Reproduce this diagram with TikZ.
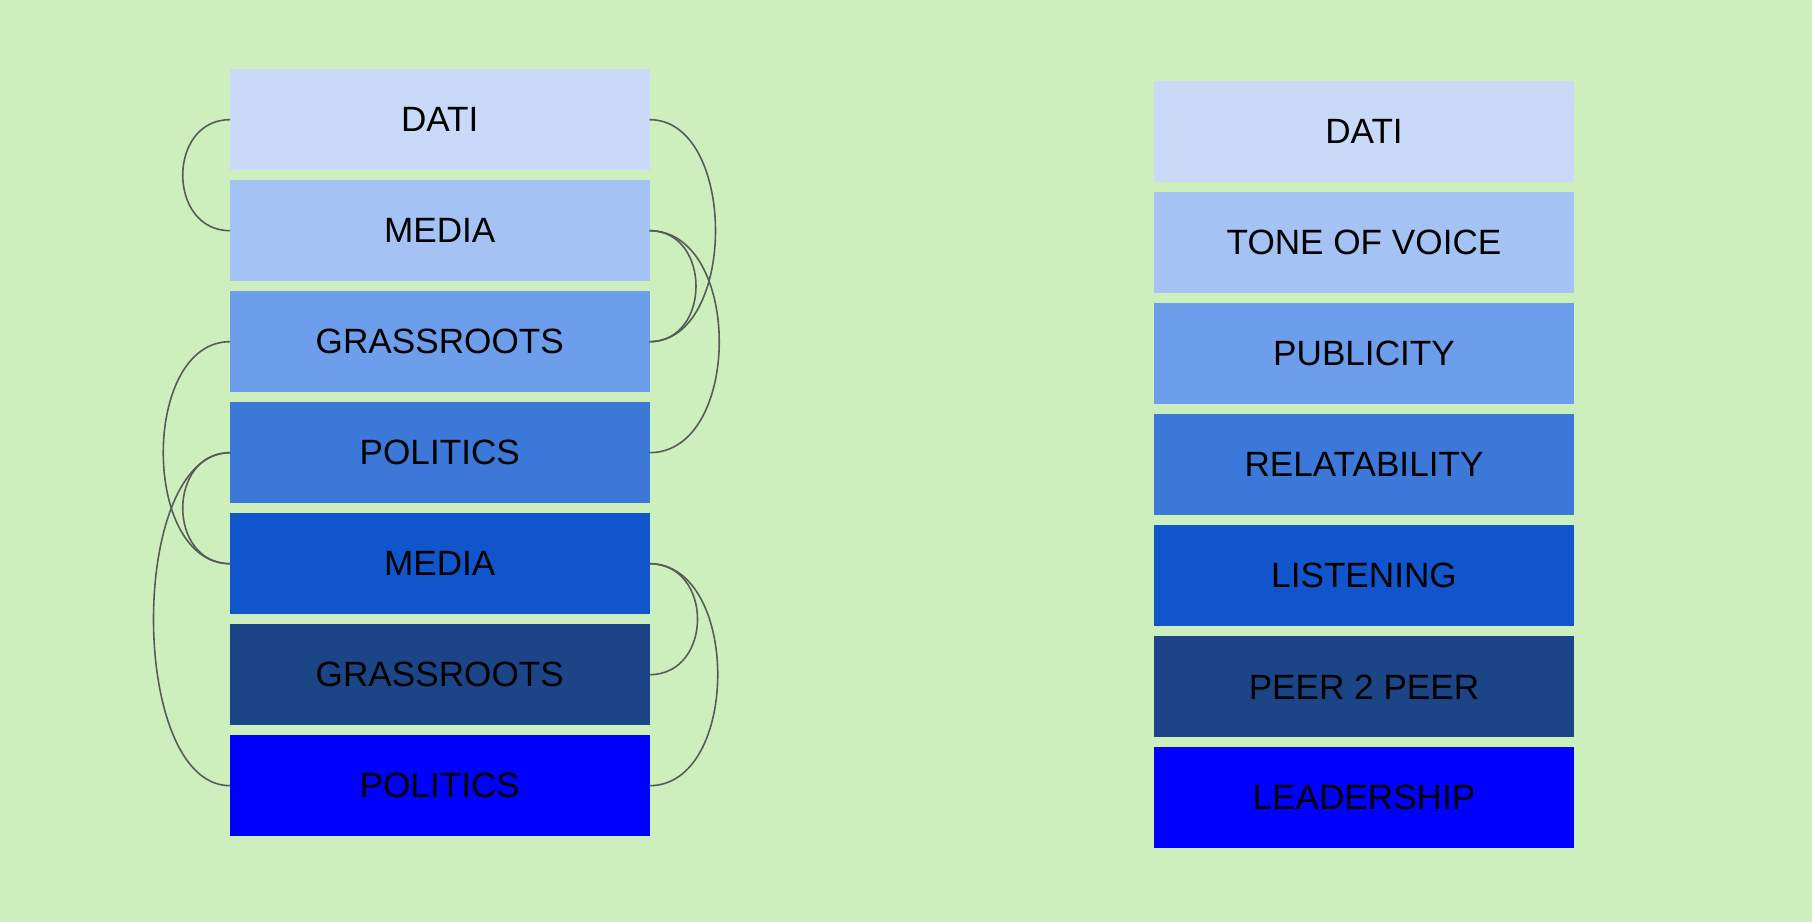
\documentclass[tikz,border=0pt]{standalone}
\usepackage{fontspec}
\setmainfont{Liberation Sans}
\usetikzlibrary{positioning, backgrounds}
\definecolor{bgGreen}{RGB}{204,239,189}
\definecolor{blueA}{HTML}{C9DAF8}
\definecolor{blueB}{HTML}{A4C2F4}
\definecolor{blueC}{HTML}{6D9EEB}
\definecolor{blueD}{HTML}{3C78D8}
\definecolor{blueE}{HTML}{1155CC}
\definecolor{blueF}{HTML}{1C4587}
\definecolor{blueG}{HTML}{0000FF}
\definecolor{linkGray}{HTML}{595959}
\newcommand{\relationR}[3]
{
	\draw[link] (#2.east) .. controls +(#1,0) and +(#1,0) .. (#3.east)
}
\newcommand{\relationL}[3]
{
	\draw[link] (#2.west) .. controls +(-#1,0) and +(-#1,0) .. (#3.west)
}

\begin{document}
\begin{tikzpicture}[
			layer/.style={shape=rectangle,
				inner sep=0, outer sep=0,
				minimum width=4.195cm,
				minimum height=1.01cm,
				font=\fontsize{10pt}{12pt}\selectfont},
			link/.style={draw=linkGray, line width=0.45pt}]

			\fill[bgGreen] (0, 0) rectangle (18.12, 9.22);

			% left stack
			\node[layer, fill=blueA] at (4.3975, 8.023) (l1){DATI};
			\node[layer, fill=blueB] at (4.3975, 6.913) (l2){MEDIA};
			\node[layer, fill=blueC] at (4.3975, 5.803) (l3){GRASSROOTS};
			\node[layer, fill=blueD] at (4.3975, 4.693) (l4){POLITICS};
			\node[layer, fill=blueE] at (4.3975, 3.583) (l5){MEDIA};
			\node[layer, fill=blueF] at (4.3975, 2.473) (l6){GRASSROOTS};
			\node[layer, fill=blueG] at (4.3975, 1.363) (l7){POLITICS};

			% right stack
			\node[layer, fill=blueA] at (13.64, 7.902) (r1){DATI};
			\node[layer, fill=blueB] at (13.64, 6.792) (r2){TONE OF VOICE};
			\node[layer, fill=blueC] at (13.64, 5.682) (r3){PUBLICITY};
			\node[layer, fill=blueD] at (13.64, 4.572) (r4){RELATABILITY};
			\node[layer, fill=blueE] at (13.64, 3.462) (r5){LISTENING};
			\node[layer, fill=blueF] at (13.64, 2.352) (r6){PEER 2 PEER};
			\node[layer, fill=blueG] at (13.64, 1.242) (r7){LEADERSHIP};

			\relationL{0.63}{l1}{l2};
			\relationL{0.89}{l3}{l5};
			\relationL{0.63}{l4}{l5};
			\relationL{1.02}{l4}{l7};
			\relationR{0.88}{l1}{l3};
			\relationR{0.62}{l2}{l3};
			\relationR{0.93}{l2}{l4};
			\relationR{0.64}{l5}{l6};
			\relationR{0.91}{l5}{l7};
		\end{tikzpicture}
\end{document}
